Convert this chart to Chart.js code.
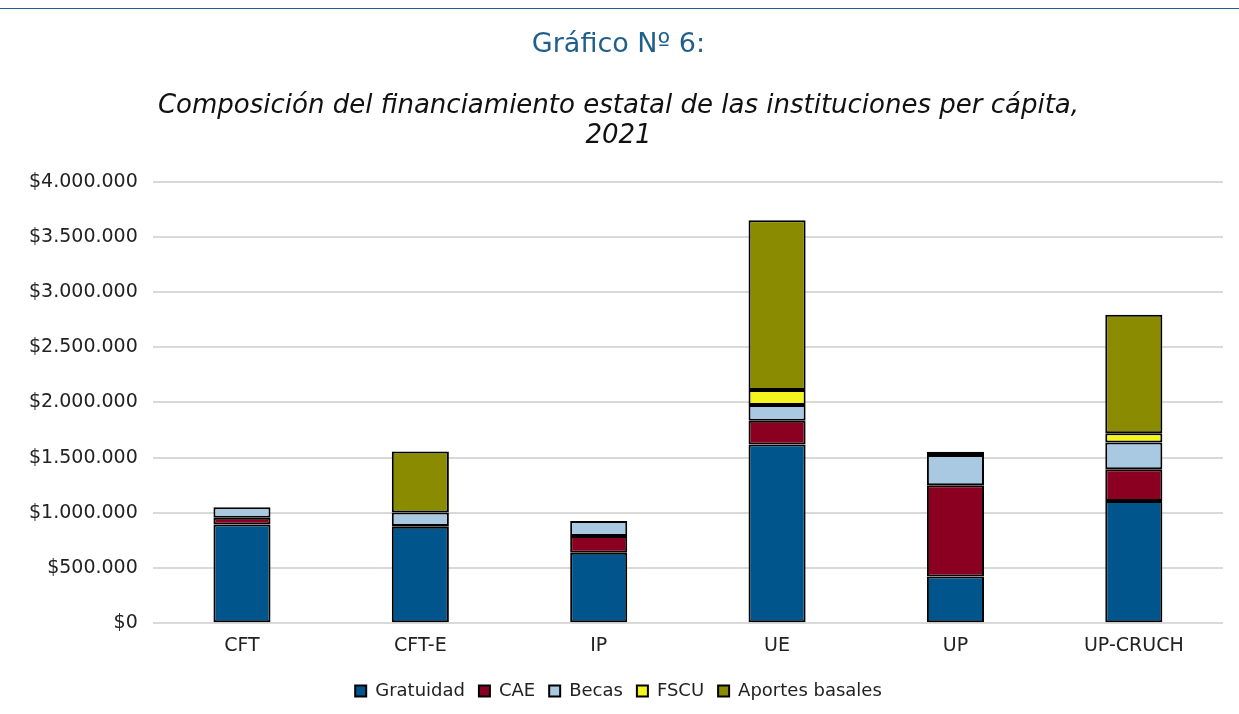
<!DOCTYPE html>
<html>
<head>
<meta charset="utf-8">
<script src="https://cdn.jsdelivr.net/npm/chart.js@4/dist/chart.umd.min.js"></script>
<style>
  html, body { margin: 0; padding: 0; background: #fff; }
  #wrap { position: relative; width: 1239px; height: 714px; }
  #topline { position: absolute; left: 0; top: 8px; width: 1239px; height: 0; border-top: 1.5px solid #1f5f8b; }
</style>
</head>
<body>
<div id="wrap">
  <div id="topline"></div>
  <canvas id="chart" width="1239" height="714"></canvas>
</div>
<script>
// categories and series (CLP per capita)
const categories = ['CFT', 'CFT-E', 'IP', 'UE', 'UP', 'UP-CRUCH'];
const gratuidad = [895000, 875000, 638000, 1620000, 423000, 1107000];
const cae = [60000, 5000, 151000, 215000, 827000, 288000];
const becas = [95000, 122000, 136000, 142000, 275000, 243000];
const fscu = [0, 0, 0, 137000, 0, 82000];
const aportesBasales = [0, 553000, 0, 1536000, 28000, 1075000];
const yTicks = [0, 500000, 1000000, 1500000, 2000000, 2500000, 3000000, 3500000, 4000000];

const FONT = '"DejaVu Sans", Verdana, sans-serif';

function fmtPeso(v) {
  return '$' + String(v).replace(/\B(?=(\d{3})+(?!\d))/g, '.');
}

function mkSet(label, data, color) {
  return {
    label: label,
    // empty segments would otherwise draw a stray border line
    data: data.map(v => (v === 0 ? null : v)),
    backgroundColor: color,
    borderColor: '#000',
    borderWidth: 2,
    borderSkipped: false,
    barPercentage: 0.32,
    categoryPercentage: 1
  };
}

const ctx = document.getElementById('chart').getContext('2d');
new Chart(ctx, {
  type: 'bar',
  data: {
    labels: categories,
    datasets: [
      mkSet('Gratuidad', gratuidad, '#00558c'),
      mkSet('CAE', cae, '#8b0020'),
      mkSet('Becas', becas, '#a9c8e2'),
      mkSet('FSCU', fscu, '#f5f51e'),
      mkSet('Aportes basales', aportesBasales, '#8b8b00')
    ]
  },
  options: {
    responsive: false,
    animation: false,
    layout: { padding: { left: 14, right: 16, top: 26, bottom: 4 } },
    plugins: {
      title: {
        display: true,
        text: 'Gráfico Nº 6:',
        color: '#1f5f8b',
        font: { family: FONT, size: 27, weight: 'normal' },
        padding: { top: 3, bottom: 30 }
      },
      subtitle: {
        display: true,
        text: ['Composición del financiamiento estatal de las instituciones per cápita,', '2021'],
        color: '#111',
        font: { family: FONT, size: 26, style: 'italic', weight: 'normal', lineHeight: 1.16 },
        padding: { bottom: 30 }
      },
      legend: {
        position: 'bottom',
        labels: {
          color: '#222',
          font: { family: FONT, size: 18 },
          boxWidth: 11,
          boxHeight: 11,
          padding: 14
        }
      },
      tooltip: { enabled: false }
    },
    scales: {
      x: {
        stacked: true,
        grid: { display: false },
        border: { display: false },
        ticks: { color: '#222', font: { family: FONT, size: 19 }, padding: 3 },
        afterFit: axis => { axis.height += 8; }
      },
      y: {
        stacked: true,
        min: 0,
        max: 4000000,
        afterBuildTicks: axis => { axis.ticks = yTicks.map(v => ({ value: v })); },
        grid: { color: '#d9d9d9', lineWidth: 2, drawTicks: false },
        border: { display: false },
        ticks: {
          color: '#222',
          font: { family: FONT, size: 19 },
          padding: 15,
          callback: v => fmtPeso(v)
        }
      }
    }
  }
});
</script>
</body>
</html>
